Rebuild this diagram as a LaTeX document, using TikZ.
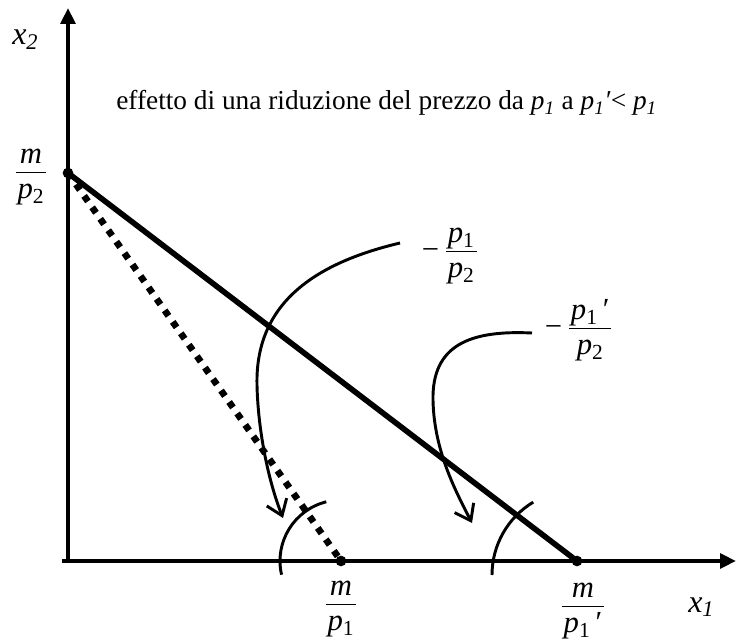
\documentclass[tikz,border=0pt]{standalone}
\usepackage{fontspec}
\setmainfont{Liberation Serif}
\usepackage{tikz}
\usetikzlibrary{arrows.meta,positioning}
\newcommand{\fr}[2]{$\displaystyle\frac{\raisebox{-3.5pt}{\hspace{1.5pt}#1\hspace{1.5pt}}}{\raisebox{4pt}{\hspace{1.5pt}#2\hspace{1.5pt}}}$}
\tikzset{
  axis/.style={line width=3pt,-{Triangle[length=12pt,width=11pt]}},
  budget/.style={line width=4.2pt},
  dotline/.style={line width=5pt,dash pattern=on 5pt off 5.5pt},
  bendarrow/.style={line width=2.2pt,-{Straight Barb[length=11pt,width=16pt]}},
  anglearc/.style={line width=2.2pt},
  endpt/.style={circle,fill,inner sep=0pt,minimum size=8pt},
  fraclbl/.style={font=\fontsize{23}{27}\selectfont,inner sep=0pt,anchor=base},
  axlbl/.style={font=\fontsize{24}{28}\selectfont\itshape,inner sep=0pt,anchor=base west},
}

\begin{document}
\begin{tikzpicture}[x=0.75pt,y=0.75pt]
\useasboundingbox (0,0) rectangle (736,640);
% points
\coordinate (o) at (68,79);
\coordinate (xl) at (62,79);
\coordinate (xr) at (736,79);
\coordinate (ytop) at (68,632);
\coordinate (a) at (68,467);
\coordinate (b) at (341,79);
\coordinate (c) at (577,79);
\coordinate (ac) at (577,65);

% axes
\draw[axis] (xl) -- (xr);
\draw[axis] (o) -- (ytop);

% budget lines
\draw[dotline] (a) -- (b);
\draw[budget] (a) -- (c);
\node[endpt] (da) at (a) {};
\node[endpt] (db) at (b) {};
\node[endpt] (dc) at (c) {};

% angles
\draw[anglearc] ([shift={(193:45.75pt)}]b) arc[start angle=193,end angle=104,radius=45.75pt];
\draw[anglearc] ([shift={(180:63.75pt)}]ac) arc[start angle=180,end angle=121,radius=63.75pt];

% labels
\node[axlbl] (lx2) at (12,595) {x\textsubscript{2}};
\node[axlbl] (lx1) at (688,28) {x\textsubscript{1}};
\node[font=\fontsize{20.5}{24}\selectfont,inner sep=0pt,anchor=base west] (title) at (116,530)
  {effetto di una riduzione del prezzo da \textit{p\textsubscript{1}} a \textit{p\textsubscript{1}′}< \textit{p\textsubscript{1}}};
\node[fraclbl] (mp2) at (31,459) {\fr{\textit{m}}{\textit{p}\textsubscript{2}}};
\node[fraclbl] (mp1) at (341,27) {\fr{\textit{m}}{\textit{p}\textsubscript{1}}};
\node[fraclbl] (mp1n) at (583,25) {\fr{\textit{m}}{\textit{p}\textsubscript{1}\,′}};
\node[fraclbl] (slope) at (450,380) {−\,\fr{\textit{p}\textsubscript{1}}{\textit{p}\textsubscript{2}}};
\node[fraclbl] (slopen) at (579,303) {−\,\fr{\textit{p}\textsubscript{1}\,′}{\textit{p}\textsubscript{2}}};

% curved arrows
\coordinate (s1) at (400,397);
\coordinate (t1) at (283,122);
\coordinate (s2) at (532,307);
\coordinate (t2) at (472,117);
\draw[bendarrow] (s1) .. controls (320,378) and (255,340) .. (257,255)
  .. controls (258,210) and (268,160) .. (t1);
\draw[bendarrow] (s2) .. controls (470,310) and (432,295) .. (433,240)
  .. controls (434,190) and (455,150) .. (t2);
\end{tikzpicture}
\end{document}
